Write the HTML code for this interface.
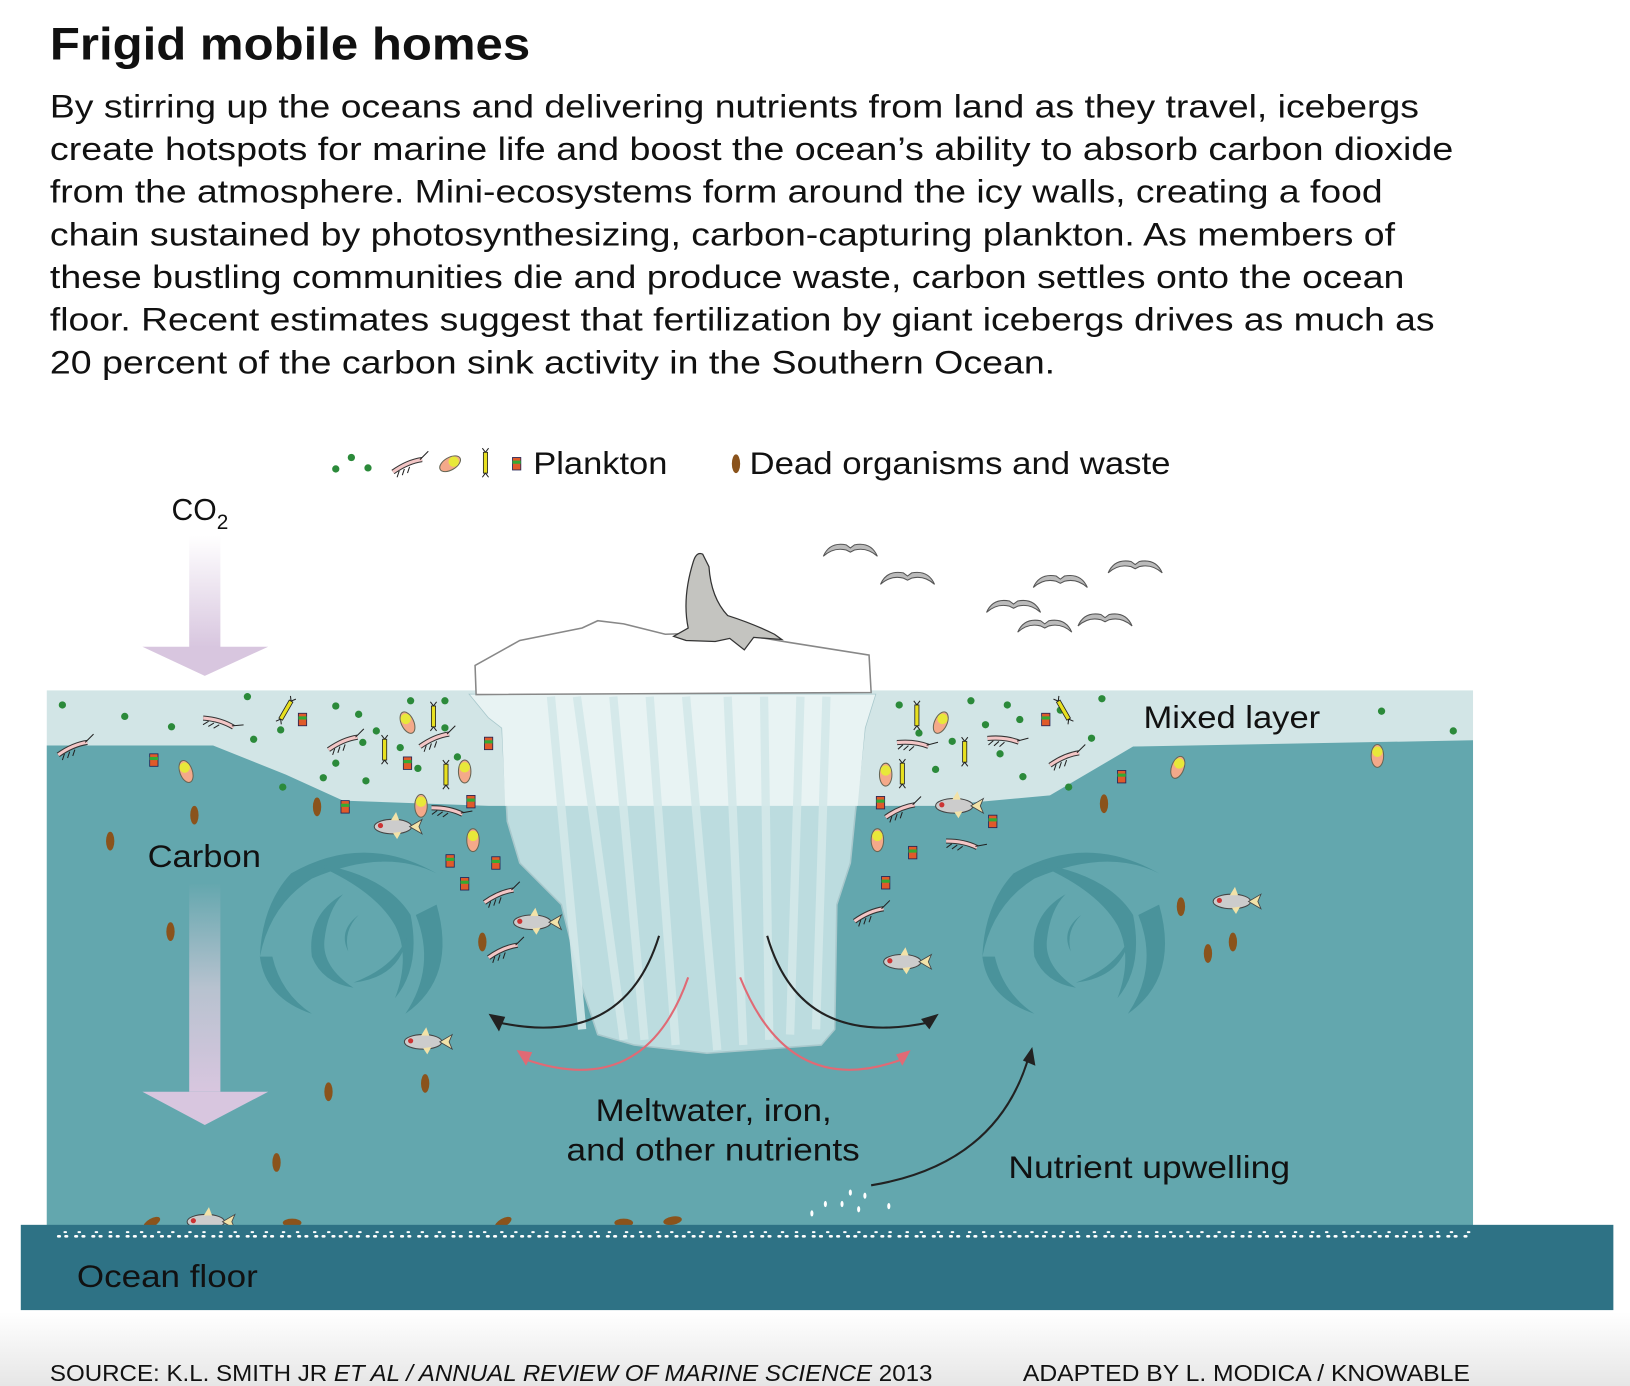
<!DOCTYPE html>
<html><head><meta charset="utf-8"><style>
html,body{margin:0;padding:0;background:#fff;width:1630px;height:1386px;overflow:hidden}
svg{display:block}
text{font-family:"Liberation Sans",sans-serif;fill:#111}
</style></head><body>
<svg width="1630" height="1386" viewBox="0 0 1568 1333" preserveAspectRatio="none" xmlns="http://www.w3.org/2000/svg">
<defs>
<linearGradient id="foot" x1="0" y1="0" x2="0" y2="1"><stop offset="0" stop-color="#fff"/><stop offset="1" stop-color="#e6e6e6"/></linearGradient>
<linearGradient id="co2" x1="0" y1="0" x2="0" y2="1"><stop offset="0" stop-color="#fff"/><stop offset="1" stop-color="#d8c6df"/></linearGradient>
<linearGradient id="carb" x1="0" y1="0" x2="0" y2="1"><stop offset="0" stop-color="#64a7ae"/><stop offset="0.5" stop-color="#b7c2cf"/><stop offset="1" stop-color="#d8c6df"/></linearGradient>
<g id="bird"><path d="M-26,8 Q-20,-6 -4,-3 L0,0 L4,-3 Q20,-6 26,8 Q16,-1 4,2 L0,4 L-4,2 Q-16,-1 -26,8Z" fill="#bbb" stroke="#555" stroke-width="1"/></g>
<g id="fish"><ellipse cx="0" cy="0" rx="18" ry="7" fill="#ccc" stroke="#444" stroke-width="1"/><path d="M16,0 L28,-7 L25,0 L28,7Z" fill="#f2e2a8" stroke="#444" stroke-width=".8"/><path d="M-2,-6 L3,-14 L6,-6Z" fill="#f2e2a8"/><path d="M0,6 L4,12 L8,5Z" fill="#f2e2a8"/><circle cx="-12" cy="-1" r="2.5" fill="#c33"/></g>
<g id="shr"><path d="M-14,6 Q0,-4 14,-6" stroke="#333" stroke-width="5" fill="none"/><path d="M-14,6 Q0,-4 14,-6" stroke="#f3c6c6" stroke-width="3" fill="none"/><path d="M12,-6 L20,-14 M-8,5 l-2,6 M-3,3 l-2,6 M2,1 l-2,6" stroke="#222" stroke-width="1"/></g>
<g id="pk"><rect x="-4" y="-6" width="8" height="12" fill="#e05a2a" stroke="#225" stroke-width=".8"/><rect x="-4" y="-3" width="8" height="3" fill="#3a3"/></g>
<g id="cop"><ellipse cx="0" cy="0" rx="6" ry="11" fill="#f4a98a" stroke="#665" stroke-width="1"/><ellipse cx="0" cy="-4" rx="5" ry="5" fill="#e8e83a"/></g>
<g id="st"><rect x="-2" y="-10" width="4" height="20" fill="#e8e020" stroke="#222" stroke-width=".8"/><path d="M0,-10 l-3,-4 M0,-10 l3,-4 M0,10 l-3,4 M0,10 l3,4" stroke="#222"/></g>
<g id="dd"><ellipse cx="0" cy="0" rx="4" ry="9" fill="#8a531c"/></g>
<g id="gd"><circle r="3.5" fill="#2b8a3a"/></g>
</defs>
<rect width="1568" height="1333" fill="#fff"/>
<rect x="0" y="1262" width="1568" height="71" fill="url(#foot)"/>
<text x="48" y="57" font-size="44" font-weight="bold" fill="#222" textLength="462" lengthAdjust="spacingAndGlyphs">Frigid mobile homes</text>
<g font-size="31">
<text x="48" y="113" textLength="1317" lengthAdjust="spacingAndGlyphs">By stirring up the oceans and delivering nutrients from land as they travel, icebergs</text>
<text x="48" y="154" textLength="1350" lengthAdjust="spacingAndGlyphs">create hotspots for marine life and boost the ocean’s ability to absorb carbon dioxide</text>
<text x="48" y="195" textLength="1282" lengthAdjust="spacingAndGlyphs">from the atmosphere. Mini-ecosystems form around the icy walls, creating a food</text>
<text x="48" y="236" textLength="1294" lengthAdjust="spacingAndGlyphs">chain sustained by photosynthesizing, carbon-capturing plankton. As members of</text>
<text x="48" y="277" textLength="1303" lengthAdjust="spacingAndGlyphs">these bustling communities die and produce waste, carbon settles onto the ocean</text>
<text x="48" y="318" textLength="1332" lengthAdjust="spacingAndGlyphs">floor. Recent estimates suggest that fertilization by giant icebergs drives as much as</text>
<text x="48" y="359" textLength="967" lengthAdjust="spacingAndGlyphs">20 percent of the carbon sink activity in the Southern Ocean.</text>
</g>
<!-- legend -->
<use href="#gd" x="323" y="451"/><use href="#gd" x="338" y="440"/><use href="#gd" x="354" y="450"/>
<use href="#shr" x="392" y="448"/><use href="#cop" x="433" y="446" transform="rotate(60 433 446)"/><use href="#st" x="467" y="445"/><use href="#pk" x="497" y="446"/>
<text x="513" y="456" font-size="30" textLength="129" lengthAdjust="spacingAndGlyphs">Plankton</text>
<use href="#dd" x="708" y="446"/>
<text x="721" y="456" font-size="30" textLength="405" lengthAdjust="spacingAndGlyphs">Dead organisms and waste</text>
<!-- CO2 arrow -->
<text x="165" y="500" font-size="29">CO<tspan font-size="20" dy="9">2</tspan></text>
<rect x="182" y="515" width="30" height="108" fill="url(#co2)"/>
<polygon points="137,622 258,622 197,650" fill="#d8c6df"/>
<!-- birds -->
<use href="#bird" x="818" y="527"/><use href="#bird" x="873" y="554"/><use href="#bird" x="1020" y="557"/><use href="#bird" x="1092" y="543"/><use href="#bird" x="975" y="581"/><use href="#bird" x="1005" y="600"/><use href="#bird" x="1063" y="594"/>
<!-- water -->
<rect x="45" y="664" width="1372" height="516" fill="#d2e5e6"/>
<path d="M45,717 L205,717 L275,745 L330,770 L470,775 L900,775 L1010,765 L1090,718 L1417,712 L1417,1180 L45,1180Z" fill="#63a7ae"/>
<!-- swirls -->
<g fill="#4a939b">
<path d="M280,840 Q350,800 420,840 Q370,815 300,845 Q260,870 250,920 Q252,870 280,840Z"/>
<path d="M420,870 Q440,940 390,975 Q420,930 400,880Z"/>
<path d="M250,920 Q255,960 300,975 Q270,955 262,920Z"/>
<path d="M300,830 Q370,840 395,880 Q405,930 380,960 Q395,920 380,890 Q360,855 300,830Z"/>
<path d="M330,860 Q295,880 300,920 Q310,945 340,950 Q310,930 312,905 Q315,875 330,860Z"/>
<path d="M340,945 Q385,940 392,900 Q380,930 340,945Z"/>
<path d="M345,880 Q325,895 335,915 Q330,895 345,880Z"/>
<path d="M975,840 Q1045,800 1115,840 Q1065,815 995,845 Q955,870 945,920 Q947,870 975,840Z"/>
<path d="M1115,870 Q1135,940 1085,975 Q1115,930 1095,880Z"/>
<path d="M945,920 Q950,960 995,975 Q965,955 957,920Z"/>
<path d="M995,830 Q1065,840 1090,880 Q1100,930 1075,960 Q1090,920 1075,890 Q1055,855 995,830Z"/>
<path d="M1025,860 Q990,880 995,920 Q1005,945 1035,950 Q1005,930 1007,905 Q1010,875 1025,860Z"/>
<path d="M1035,945 Q1080,940 1087,900 Q1075,930 1035,945Z"/>
<path d="M1040,880 Q1020,895 1030,915 Q1025,895 1040,880Z"/>
</g>
<!-- iceberg underwater -->
<path d="M452,668 L470,690 L483,700 L488,790 L500,830 L540,870 L560,950 L575,995 L610,1005 L680,1013 L790,1005 L803,990 L805,870 L818,830 L823,780 L832,700 L842,668Z" fill="#bcdcdf" stroke="#a8c8cc" stroke-width="1.5"/>
<path d="M452,668 L470,690 L483,700 L486,775 L825,775 L832,700 L842,668Z" fill="#e8f3f3"/>
<g stroke="#d4e9ea" stroke-width="8" fill="none" opacity=".9">
<path d="M530,670 L560,990"/><path d="M555,670 L600,1000"/><path d="M590,670 L620,1000"/><path d="M625,670 L650,1005"/><path d="M660,670 L690,1010"/><path d="M700,670 L715,1005"/><path d="M735,670 L740,1000"/><path d="M770,670 L760,995"/><path d="M795,670 L785,990"/>
</g>
<!-- iceberg top -->
<path d="M458,668 L457,640 L500,616 L560,604 L575,597 L600,600 L640,610 L700,608 L760,618 L836,630 L838,666Z" fill="#fff" stroke="#888" stroke-width="1.5"/>
<!-- seal -->
<path d="M667,540 Q670,530 676,533 L682,545 Q684,575 700,592 Q725,600 745,610 L752,615 L725,613 L716,625 L702,614 L688,617 L660,616 L648,612 L662,604 Q656,575 667,540Z" fill="#c4c4c0" stroke="#333" stroke-width="1.2"/>
<!-- arrows -->
<g fill="none" stroke-width="2">
<path d="M634,900 Q600,1010 478,983" stroke="#222"/>
<path d="M738,900 Q770,1010 895,983" stroke="#222"/>
<path d="M662,940 Q620,1060 503,1018" stroke="#e06a75"/>
<path d="M712,940 Q760,1060 870,1018" stroke="#e06a75"/>
<path d="M838,1140 Q960,1120 990,1015" stroke="#222"/>
</g>
<polygon points="470,975 486,978 480,992" fill="#222"/>
<polygon points="903,975 894,990 886,980" fill="#222"/>
<polygon points="497,1010 512,1012 506,1025" fill="#e06a75"/>
<polygon points="876,1010 868,1025 862,1014" fill="#e06a75"/>
<polygon points="993,1007 996,1025 984,1020" fill="#222"/>
<!-- plankton scattering -->
<g>
<use href="#gd" x="60" y="678"/><use href="#gd" x="120" y="689"/><use href="#gd" x="165" y="699"/><use href="#gd" x="238" y="670"/><use href="#gd" x="244" y="711"/><use href="#gd" x="270" y="702"/><use href="#gd" x="323" y="679"/><use href="#gd" x="345" y="687"/><use href="#gd" x="362" y="703"/><use href="#gd" x="395" y="674"/><use href="#gd" x="428" y="674"/><use href="#gd" x="428" y="700"/><use href="#gd" x="440" y="728"/><use href="#gd" x="323" y="734"/><use href="#gd" x="349" y="714"/><use href="#gd" x="385" y="719"/><use href="#gd" x="352" y="751"/><use href="#gd" x="311" y="748"/><use href="#gd" x="272" y="757"/><use href="#gd" x="402" y="739"/>
<use href="#gd" x="865" y="678"/><use href="#gd" x="934" y="674"/><use href="#gd" x="969" y="678"/><use href="#gd" x="884" y="705"/><use href="#gd" x="916" y="713"/><use href="#gd" x="948" y="697"/><use href="#gd" x="981" y="692"/><use href="#gd" x="1020" y="683"/><use href="#gd" x="1060" y="672"/><use href="#gd" x="1050" y="710"/><use href="#gd" x="1028" y="757"/><use href="#gd" x="984" y="747"/><use href="#gd" x="962" y="725"/><use href="#gd" x="1329" y="684"/><use href="#gd" x="1398" y="703"/><use href="#gd" x="900" y="740"/>
<use href="#shr" x="70" y="720"/><use href="#shr" x="210" y="695" transform="rotate(40 210 695)"/><use href="#shr" x="330" y="715"/><use href="#shr" x="418" y="712"/><use href="#shr" x="430" y="780" transform="rotate(35 430 780)"/><use href="#shr" x="480" y="862"/><use href="#shr" x="484" y="915"/>
<use href="#shr" x="878" y="716" transform="rotate(30 878 716)"/><use href="#shr" x="965" y="712" transform="rotate(30 965 712)"/><use href="#shr" x="1024" y="730"/><use href="#shr" x="866" y="780"/><use href="#shr" x="925" y="812" transform="rotate(35 925 812)"/><use href="#shr" x="836" y="880"/>
<use href="#cop" x="179" y="742" transform="rotate(-20 179 742)"/><use href="#cop" x="392" y="695" transform="rotate(-25 392 695)"/><use href="#cop" x="447" y="742"/><use href="#cop" x="405" y="775"/><use href="#cop" x="455" y="808"/><use href="#cop" x="905" y="695" transform="rotate(25 905 695)"/><use href="#cop" x="852" y="745"/><use href="#cop" x="844" y="808"/><use href="#cop" x="1133" y="738" transform="rotate(20 1133 738)"/><use href="#cop" x="1325" y="727"/>
<use href="#st" x="275" y="683" transform="rotate(30 275 683)"/><use href="#st" x="370" y="721"/><use href="#st" x="417" y="689"/><use href="#st" x="429" y="745"/><use href="#st" x="882" y="688"/><use href="#st" x="868" y="744"/><use href="#st" x="928" y="723"/><use href="#st" x="1023" y="683" transform="rotate(-30 1023 683)"/>
<use href="#pk" x="148" y="731"/><use href="#pk" x="291" y="692"/><use href="#pk" x="332" y="776"/><use href="#pk" x="392" y="734"/><use href="#pk" x="470" y="715"/><use href="#pk" x="453" y="771"/><use href="#pk" x="433" y="828"/><use href="#pk" x="477" y="830"/><use href="#pk" x="447" y="850"/><use href="#pk" x="1006" y="692"/><use href="#pk" x="955" y="790"/><use href="#pk" x="878" y="820"/><use href="#pk" x="852" y="849"/><use href="#pk" x="1079" y="747"/><use href="#pk" x="847" y="772"/>
<use href="#dd" x="187" y="784"/><use href="#dd" x="106" y="809"/><use href="#dd" x="305" y="776"/><use href="#dd" x="164" y="896"/><use href="#dd" x="464" y="906"/><use href="#dd" x="316" y="1050"/><use href="#dd" x="409" y="1042"/><use href="#dd" x="266" y="1118"/><use href="#dd" x="1062" y="773"/><use href="#dd" x="1136" y="872"/><use href="#dd" x="1186" y="906"/><use href="#dd" x="1162" y="917"/>
<use href="#dd" x="146" y="1176" transform="rotate(60 146 1176)"/><use href="#dd" x="281" y="1176" transform="rotate(90 281 1176)"/><use href="#dd" x="484" y="1176" transform="rotate(60 484 1176)"/><use href="#dd" x="600" y="1176" transform="rotate(90 600 1176)"/><use href="#dd" x="647" y="1174" transform="rotate(80 647 1174)"/>
<use href="#fish" x="378" y="795"/><use href="#fish" x="512" y="887"/><use href="#fish" x="868" y="925"/><use href="#fish" x="407" y="1002"/><use href="#fish" x="198" y="1175"/><use href="#fish" x="918" y="775"/><use href="#fish" x="1185" y="867"/>
</g>
<!-- nutrient dots -->
<g fill="#fff"><ellipse cx="818" cy="1147" rx="1.5" ry="3"/><ellipse cx="794" cy="1158" rx="1.5" ry="3"/><ellipse cx="810" cy="1158" rx="1.5" ry="3"/><ellipse cx="832" cy="1150" rx="1.5" ry="3"/><ellipse cx="826" cy="1163" rx="1.5" ry="3"/><ellipse cx="855" cy="1160" rx="1.5" ry="3"/><ellipse cx="781" cy="1167" rx="1.5" ry="3"/></g>
<text x="1100" y="700" font-size="30" textLength="170" lengthAdjust="spacingAndGlyphs">Mixed layer</text>
<text x="142" y="834" font-size="30" textLength="109" lengthAdjust="spacingAndGlyphs">Carbon</text>
<rect x="182" y="850" width="30" height="200" fill="url(#carb)"/>
<polygon points="137,1050 258,1050 197,1082" fill="#d8c6df"/>
<text x="573" y="1078" font-size="30" textLength="227" lengthAdjust="spacingAndGlyphs">Meltwater, iron,</text>
<text x="545" y="1116" font-size="30" textLength="282" lengthAdjust="spacingAndGlyphs">and other nutrients</text>
<text x="970" y="1133" font-size="30" textLength="271" lengthAdjust="spacingAndGlyphs">Nutrient upwelling</text>
<!-- ocean floor -->
<rect x="20" y="1178" width="1532" height="82" fill="#2e7285"/>
<line x1="56" y1="1189" x2="1414" y2="1189" stroke="#fff" stroke-width="2.5" stroke-dasharray="1.5 5.5 1.5 8" stroke-linecap="round"/>
<line x1="62" y1="1185" x2="1414" y2="1185" stroke="#fff" stroke-width="2" stroke-dasharray="1.5 12 1.5 15" stroke-linecap="round"/>
<text x="74" y="1238" font-size="30" textLength="174" lengthAdjust="spacingAndGlyphs">Ocean floor</text>
<text x="48" y="1328" font-size="22" fill="#222" textLength="849" lengthAdjust="spacingAndGlyphs">SOURCE: K.L. SMITH JR <tspan font-style="italic">ET AL / ANNUAL REVIEW OF MARINE SCIENCE</tspan> 2013</text>
<text x="984" y="1328" font-size="22" fill="#222" textLength="430" lengthAdjust="spacingAndGlyphs">ADAPTED BY L. MODICA / KNOWABLE</text>
</svg>
</body></html>
